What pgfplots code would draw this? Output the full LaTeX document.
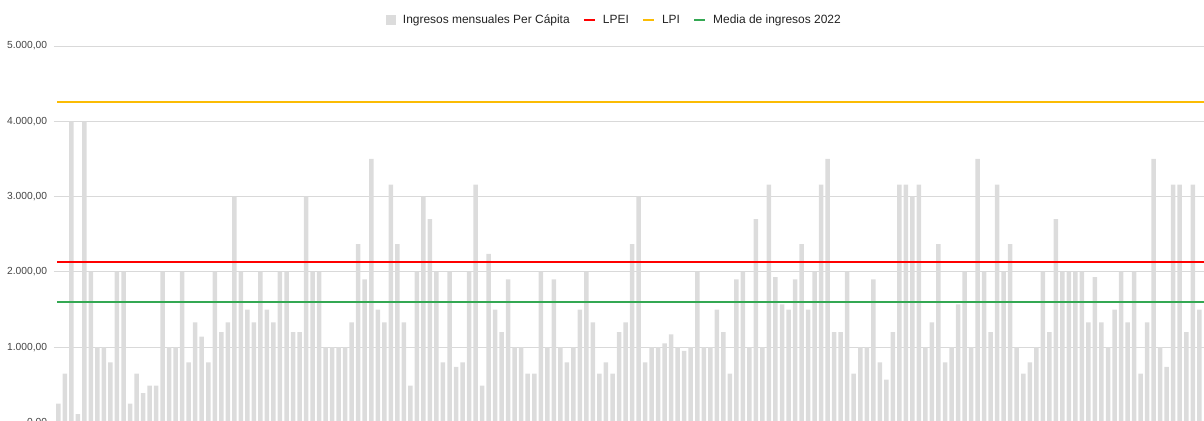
\documentclass[border=0pt]{standalone}
\usepackage{pgfplots}
\pgfplotsset{compat=1.18}
\usepackage{fontspec}
\setmainfont{Liberation Sans}
\definecolor{barcol}{HTML}{DCDCDC}
\definecolor{gridcol}{HTML}{D9D9D9}
\definecolor{lpei}{HTML}{FF0000}
\definecolor{lpi}{HTML}{FBBC04}
\definecolor{media}{HTML}{34A853}
\definecolor{ticktext}{HTML}{444444}
\definecolor{legtext}{HTML}{222222}
\begin{document}
\begin{tikzpicture}
\path[use as bounding box, clip] (-54bp,1.5bp) rectangle (1150bp,422.5bp);
\begin{axis}[
  scale only axis,
  width=1150bp, height=376.5bp,
  xmin=0.34, xmax=176.72,
  ymin=0, ymax=5000,
  ytick={0,1000,2000,3000,4000,5000},
  xtick=\empty,
  ymajorgrids,
  grid style={gridcol, line width=0.9bp},
  axis line style={draw=none},
  major tick length=0pt,
  yticklabel style={font=\fontsize{10.3}{12}\selectfont, text=ticktext, inner sep=0pt, xshift=-6.7bp},
  /pgf/number format/.cd, fixed, fixed zerofill, precision=2, use comma, 1000 sep={.}, assume math mode=true,
  /pgfplots/.cd,
  legend columns=-1,
  legend cell align=left,
  legend style={draw=none, fill=none, inner sep=0pt, outer sep=0pt,
    at={(0.4865,1.06906)}, anchor=center,
    font=\fontsize{12}{14}\selectfont, text=legtext,
    nodes={inner sep=0pt},
    /tikz/every odd column/.append style={column sep=6.8bp},
    /tikz/every even column/.append style={column sep=12.8bp}},
]
\addplot[ybar, bar width=4.5bp, bar shift=0pt, draw=none, fill=barcol,
  legend image code/.code={\fill[barcol] (0bp,-5bp) rectangle (10bp,5bp);}]
coordinates {
(1,250) (2,650) (3,4000) (4,110) (5,4000) (6,2000) (7,1000) (8,1000) (9,800) (10,2000)
(11,2000) (12,250) (13,650) (14,390) (15,490) (16,490) (17,2000) (18,1000) (19,1000) (20,2000)
(21,800) (22,1330) (23,1140) (24,800) (25,2000) (26,1200) (27,1330) (28,3000) (29,2000) (30,1500)
(31,1330) (32,2000) (33,1500) (34,1330) (35,2000) (36,2000) (37,1200) (38,1200) (39,3000) (40,2000)
(41,2000) (42,1000) (43,1000) (44,1000) (45,1000) (46,1330) (47,2370) (48,1900) (49,3500) (50,1500)
(51,1330) (52,3160) (53,2370) (54,1330) (55,490) (56,2000) (57,3000) (58,2700) (59,2000) (60,800)
(61,2000) (62,740) (63,800) (64,2000) (65,3160) (66,490) (67,2240) (68,1500) (69,1200) (70,1900)
(71,1000) (72,1000) (73,650) (74,650) (75,2000) (76,1000) (77,1900) (78,1000) (79,800) (80,1000)
(81,1500) (82,2000) (83,1330) (84,650) (85,800) (86,650) (87,1200) (88,1330) (89,2370) (90,3000)
(91,800) (92,1000) (93,1000) (94,1050) (95,1170) (96,1000) (97,950) (98,1000) (99,2000) (100,1000)
(101,1000) (102,1500) (103,1200) (104,650) (105,1900) (106,2000) (107,1000) (108,2700) (109,1000) (110,3160)
(111,1930) (112,1570) (113,1500) (114,1900) (115,2370) (116,1500) (117,2000) (118,3160) (119,3500) (120,1200)
(121,1200) (122,2000) (123,650) (124,1000) (125,1000) (126,1900) (127,800) (128,570) (129,1200) (130,3160)
(131,3160) (132,3000) (133,3160) (134,1000) (135,1330) (136,2370) (137,800) (138,1000) (139,1570) (140,2000)
(141,1000) (142,3500) (143,2000) (144,1200) (145,3160) (146,2000) (147,2370) (148,1000) (149,650) (150,800)
(151,1000) (152,2000) (153,1200) (154,2700) (155,2000) (156,2000) (157,2000) (158,2000) (159,1330) (160,1930)
(161,1330) (162,1000) (163,1500) (164,2000) (165,1330) (166,2000) (167,650) (168,1330) (169,3500) (170,1000)
(171,740) (172,3160) (173,3160) (174,1200) (175,3160) (176,1500)
};
\addlegendentry{Ingresos mensuales Per Cápita}
\addplot[lpei, line width=2bp, mark=none,
  legend image code/.code={\draw[lpei, line width=2.6bp] (0bp,0bp) -- (11bp,0bp);}]
coordinates {(0.86,2125) (177,2125)};
\addlegendentry{LPEI}
\addplot[lpi, line width=2bp, mark=none,
  legend image code/.code={\draw[lpi, line width=2.6bp] (0bp,0bp) -- (11bp,0bp);}]
coordinates {(0.86,4250) (177,4250)};
\addlegendentry{LPI}
\addplot[media, line width=2bp, mark=none,
  legend image code/.code={\draw[media, line width=2.6bp] (0bp,0bp) -- (11bp,0bp);}]
coordinates {(0.86,1600) (177,1600)};
\addlegendentry{Media de ingresos 2022}
\end{axis}
\end{tikzpicture}
\end{document}
